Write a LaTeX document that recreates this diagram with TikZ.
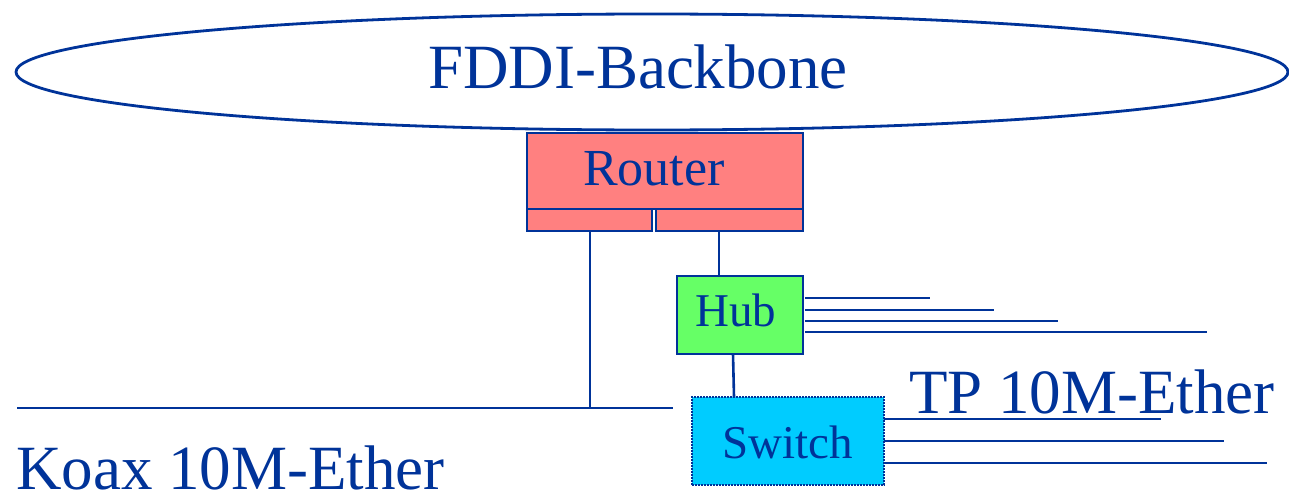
\documentclass[tikz,border=0pt]{standalone}
\usepackage{fontspec}
\newfontfamily\labelface{LiberationSerif}[Extension=.ttf, UprightFont=*-Regular, BoldFont=*-Bold]
\usetikzlibrary{shapes.geometric}
\definecolor{netblue}{RGB}{0,51,153}
\definecolor{routerfill}{RGB}{255,128,128}
\definecolor{hubfill}{RGB}{102,255,102}
\definecolor{switchfill}{RGB}{0,204,255}
\tikzset{
  wire/.style={draw=netblue, line width=2.6pt},
  box/.style={draw=netblue, line width=2.8pt, inner sep=0pt, outer sep=0pt},
  routerbox/.style={box, fill=routerfill},
  hubbox/.style={box, fill=hubfill},
  switchbox/.style={box, fill=switchfill, dash pattern=on 1.6pt off 1.4pt},
  bigtext/.style={text=netblue, inner sep=0pt, anchor=base, font=\labelface\fontsize{63}{63}\selectfont},
  midtext/.style={text=netblue, inner sep=0pt, anchor=base, font=\labelface\fontsize{52}{52}\selectfont},
  smalltext/.style={text=netblue, inner sep=0pt, anchor=base, font=\labelface\fontsize{47}{47}\selectfont},
}
\begin{document}
\begin{tikzpicture}[x=1pt, y=-1pt]
\useasboundingbox (0,0) rectangle (1289,495);

% backbone ring
\node[draw=netblue, line width=2.8pt, ellipse, inner sep=0pt, minimum width=1272pt, minimum height=116pt] (fddi) at (652,72) {};
\node[bigtext] (fdditxt) at (638,88) {FDDI-Backbone};

% router with its two ports
\node[routerbox, minimum width=276pt, minimum height=76pt] (router) at (665,171) {};
\node[midtext] (routertxt) at (654,185) {Router};
\node[routerbox, minimum width=125pt, minimum height=22pt] (portL) at (589.5,220) {};
\node[routerbox, minimum width=147pt, minimum height=22pt] (portR) at (729.5,220) {};

% hub and switch
\node[hubbox, minimum width=126pt, minimum height=78pt] (hub) at (740,315) {};
\node[smalltext] (hubtxt) at (736,326) {Hub};
\node[switchbox, minimum width=192pt, minimum height=88pt] (switch) at (788,441) {};
\node[smalltext] (switchtxt) at (788,458) {Switch};

% coax segment
\coordinate (koaxL) at (17,408);
\coordinate (koaxR) at (673,408);
\coordinate (koaxTap) at (590,408);
\draw[wire] (koaxL) -- (koaxR);
\draw[wire] (koaxTap |- portL.south) -- (koaxTap);
\node[bigtext, anchor=base west] (koaxtxt) at (16,489) {Koax 10M-Ether};

% router to hub, hub to switch
\draw[wire] ([xshift=-21pt]hub.north |- portR.south) -- ([xshift=-21pt]hub.north);
\draw[wire] ([xshift=-7pt]hub.south) -- ([xshift=-54pt]switch.north);

% twisted-pair drops from the hub
\coordinate (h1) at (930,298);
\coordinate (h2) at (994,310);
\coordinate (h3) at (1058,321);
\coordinate (h4) at (1207,332);
\foreach \e in {h1,h2,h3,h4}
  \draw[wire] ([xshift=2pt]hub.east |- \e) -- (\e);

% twisted-pair drops from the switch
\coordinate (s1) at (1161,419);
\coordinate (s2) at (1224,441);
\coordinate (s3) at (1267,463);
\foreach \e in {s1,s2,s3}
  \draw[wire] (switch.east |- \e) -- (\e);

\node[bigtext, anchor=base west] (tptxt) at (909,413) {TP 10M-Ether};
\end{tikzpicture}
\end{document}
